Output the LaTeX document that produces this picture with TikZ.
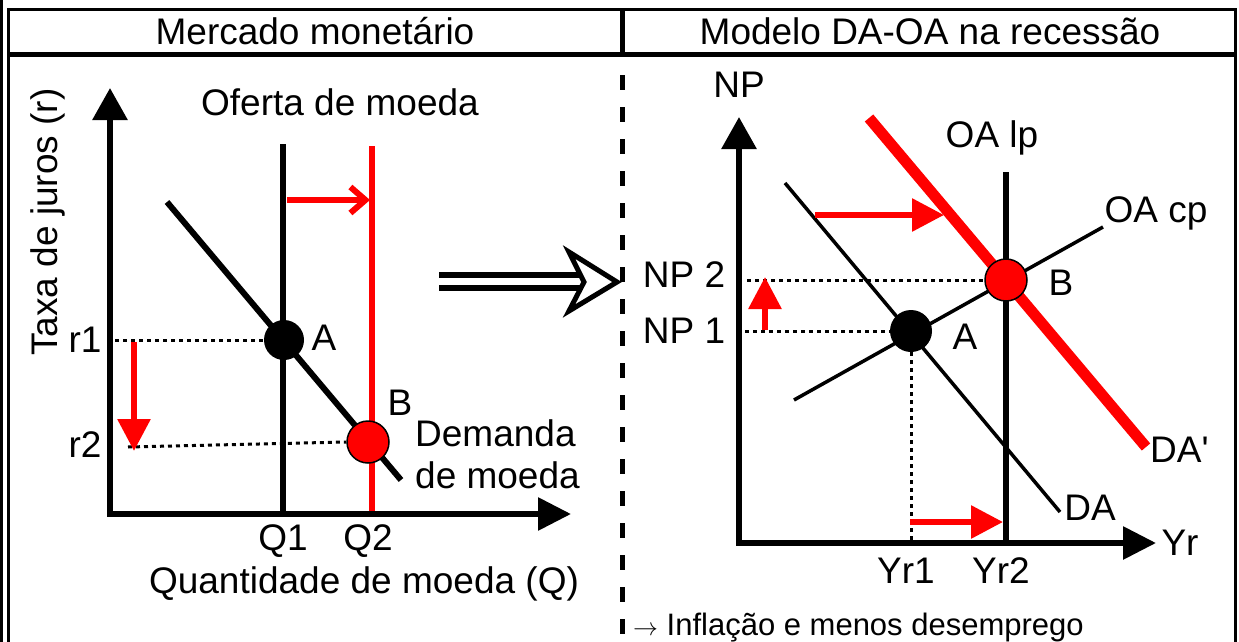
\documentclass[tikz,border=0pt]{standalone}
\usepackage{fontspec}
\setmainfont{Liberation Sans}
\usetikzlibrary{arrows.meta}
\begin{document}
\begin{tikzpicture}[x=1pt,y=-1pt,
  lbl/.style={font=\fontsize{37}{42}\selectfont, inner sep=0pt, anchor=base},
  lblw/.style={font=\fontsize{37}{42}\selectfont, inner sep=0pt, anchor=base west},
  small/.style={font=\fontsize{31}{36}\selectfont, inner sep=0pt, anchor=base west},
  frameline/.style={line width=3pt},
  axisline/.style={line width=6pt, line join=miter, {Triangle[length=32pt,width=34pt]}-{Triangle[length=33pt,width=32pt]}},
  dotline/.style={line width=3pt, dash pattern=on 4pt off 4pt},
  redarrow/.style={red, line width=6pt, -{Triangle[length=32pt,width=32pt]}},
  blackpt/.style={circle, fill=black, inner sep=0pt, minimum size=40pt},
  redpt/.style={circle, fill=red, draw=black, line width=1.5pt, inner sep=0pt, minimum size=42pt},
]
\useasboundingbox (0,0) rectangle (1239,642);
% ---------- frame ----------
\coordinate (f0t) at (1.5,0);   \coordinate (f0b) at (1.5,642);
\coordinate (tl) at (8.5,10);   \coordinate (bl) at (8.5,642);
\coordinate (tr) at (1235,10);  \coordinate (br) at (1235,642);
\coordinate (hl) at (8.5,55);   \coordinate (hr) at (1235,55);
\coordinate (dt) at (622,10);   \coordinate (db) at (622,55);
\coordinate (dashtop) at (622,75); \coordinate (dashbot) at (622,642);
\draw[frameline] (f0t) -- (f0b);
\draw[frameline, line join=miter] (bl) -- (tl) -- (tr) -- (br);
\draw[line width=5pt] (hl) -- (hr);
\draw[line width=5pt] (dt) -- (db);
\draw[line width=5pt, dash pattern=on 15pt off 17pt] (dashtop) -- (dashbot);
\node[lbl] (h1) at (315,45) {Mercado monetário};
\node[lbl] (h2) at (930,45) {Modelo DA-OA na recessão};
% ---------- left panel ----------
\coordinate (ly) at (110,88); \coordinate (lo) at (110,514); \coordinate (lx) at (571,514);
\coordinate (q1t) at (283,144); \coordinate (q1b) at (283,514);
\coordinate (q2t) at (372,146); \coordinate (q2b) at (372,514);
\coordinate (d1) at (167,202); \coordinate (d2) at (401,480);
\draw[line width=6pt] (q1t) -- (q1b);
\draw[red, line width=6pt] (q2t) -- (q2b);
\draw[line width=6pt] (d1) -- (d2);
\draw[axisline] (ly) -- (lo) -- (lx);
\node[blackpt] (A1) at (284,340) {};
\node[redpt] (B1) at (368,442) {};
\coordinate (r1s) at (115,340); \coordinate (r2s) at (128,447);
\draw[dotline] (r1s) -- (A1.west);
\draw[dotline] (r2s) -- (B1.west);
\coordinate (sa) at (287,200); \coordinate (sb) at (370,200);
\draw[red, line width=6pt, -{Straight Barb[length=15pt,width=26pt]}] (sa) -- (sb);
\coordinate (ra) at (134,342); \coordinate (rb) at (134,451);
\draw[redarrow] (ra) -- (rb);
\node[lbl, rotate=90] (ty) at (57,222) {Taxa de juros (r)};
\node[lbl] (of) at (340,115) {Oferta de moeda};
\node[lbl] (r1) at (85,352) {r1};
\node[lbl] (r2) at (85,457) {r2};
\node[lbl] (la) at (324,350) {A};
\node[lbl] (lb) at (400,415) {B};
\node[lblw] (dm1) at (415,446) {Demanda};
\node[lblw] (dm2) at (415,488) {de moeda};
\node[lbl] (q1) at (283,550) {Q1};
\node[lbl] (q2) at (368,550) {Q2};
\node[lbl] (qm) at (364,593) {Quantidade de moeda (Q)};
% ---------- implies arrow ----------
\coordinate (i1a) at (439,275); \coordinate (i1b) at (583,275);
\coordinate (i2a) at (439,288); \coordinate (i2b) at (583,288);
\draw[line width=6pt] (i1a) -- (i1b);
\draw[line width=6pt] (i2a) -- (i2b);
\coordinate (h1p) at (569,252); \coordinate (htip) at (617,282);
\coordinate (h2p) at (569,311); \coordinate (hn) at (584,282);
\draw[line width=5pt, fill=white, line join=miter] (h1p) -- (htip) -- (h2p) -- (hn) -- cycle;
% ---------- right panel ----------
\coordinate (ry) at (739,117); \coordinate (ro) at (739,543); \coordinate (rx) at (1156,543);
\coordinate (lpt) at (1006,172); \coordinate (lpb) at (1006,543);
\coordinate (dp1) at (869,118); \coordinate (dp2) at (1146,447);
\coordinate (cp1) at (794,400); \coordinate (cp2) at (1103,227);
\coordinate (da1) at (785,183); \coordinate (da2) at (1060,512);
\draw[line width=6pt] (lpt) -- (lpb);
\draw[line width=3.5pt] (cp1) -- (cp2);
\draw[line width=3.5pt] (da1) -- (da2);
\draw[red, line width=11pt] (dp1) -- (dp2);
\draw[axisline] (ry) -- (ro) -- (rx);
\node[blackpt, minimum size=42pt] (A2) at (911,331) {};
\node[redpt] (B2) at (1006,280) {};
\coordinate (np2s) at (747,280); \coordinate (np1s) at (745,331);
\coordinate (yr1b) at (911,541);
\draw[dotline] (np2s) -- (B2.west);
\draw[dotline] (np1s) -- (A2.west);
\draw[dotline] (A2.south) -- (yr1b);
\coordinate (ua) at (765,330); \coordinate (ub) at (765,277);
\draw[redarrow] (ua) -- (ub);
\coordinate (ta) at (815,215); \coordinate (tb) at (944,215);
\draw[redarrow] (ta) -- (tb);
\coordinate (ba) at (910,522); \coordinate (bb) at (1003,522);
\draw[redarrow] (ba) -- (bb);
\node[lbl] (np) at (739,97) {NP};
\node[lbl] (oalp) at (992,147) {OA lp};
\node[lbl] (oacp) at (1156,222) {OA cp};
\node[lbl] (np2) at (684,287) {NP 2};
\node[lbl] (np1) at (684,343) {NP 1};
\node[lbl] (rb2) at (1061,295) {B};
\node[lbl] (ra2) at (965,349) {A};
\node[lblw] (dap) at (1150,462) {DA\textquotesingle};
\node[lbl] (da) at (1090,520) {DA};
\node[lbl] (yr) at (1180,555) {Yr};
\node[lbl] (yr1) at (906,583) {Yr1};
\node[lbl] (yr2) at (1001,583) {Yr2};
\node[small] (note) at (633,635) {$\rightarrow$ Inflação e menos desemprego};
\end{tikzpicture}
\end{document}
